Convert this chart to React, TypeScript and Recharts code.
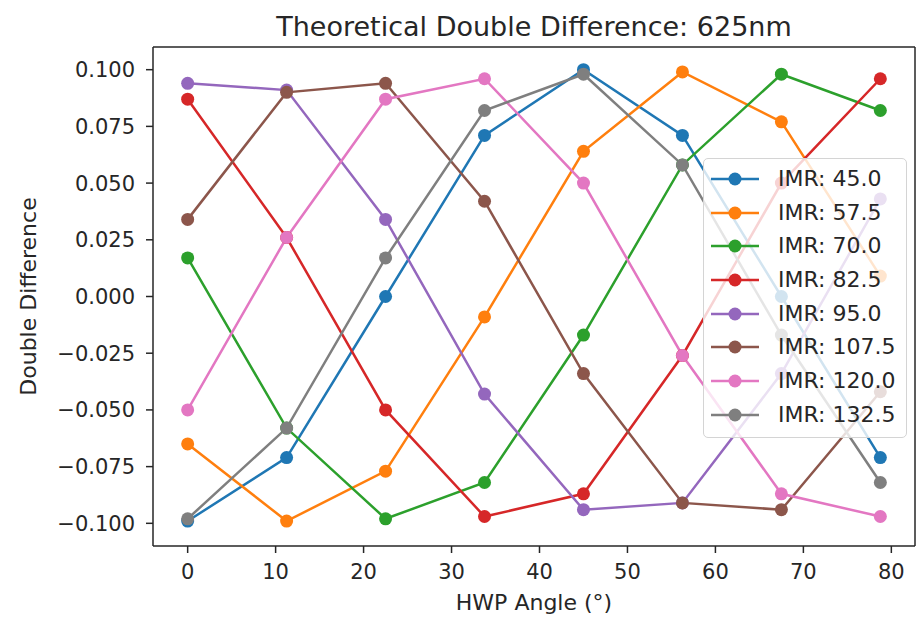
import { Legend, Line, LineChart, XAxis, YAxis } from "recharts";

const TITLE = "Theoretical Double Difference: 625nm";

// HWP angles (deg)
const ANGLES = [0, 11.25, 22.5, 33.75, 45, 56.25, 67.5, 78.75];
const X_TICKS = [0, 10, 20, 30, 40, 50, 60, 70, 80];
const Y_TICKS = [-0.1, -0.075, -0.05, -0.025, 0, 0.025, 0.05, 0.075, 0.1];

const IMR_45 = [-0.099, -0.071, 0.0, 0.071, 0.1, 0.071, 0.0, -0.071];
const IMR_57_5 = [-0.065, -0.099, -0.077, -0.009, 0.064, 0.099, 0.077, 0.009];
const IMR_70 = [0.017, -0.058, -0.098, -0.082, -0.017, 0.058, 0.098, 0.082];
const IMR_82_5 = [0.087, 0.026, -0.05, -0.097, -0.087, -0.026, 0.05, 0.096];
const IMR_95 = [0.094, 0.091, 0.034, -0.043, -0.094, -0.091, -0.034, 0.043];
const IMR_107_5 = [0.034, 0.09, 0.094, 0.042, -0.034, -0.091, -0.094, -0.042];
const IMR_120 = [-0.05, 0.026, 0.087, 0.096, 0.05, -0.026, -0.087, -0.097];
const IMR_132_5 = [-0.098, -0.058, 0.017, 0.082, 0.098, 0.058, -0.017, -0.082];

const SERIES = [
  { key: "imr45", name: "IMR: 45.0", values: IMR_45, color: "#1f77b4" },
  { key: "imr57", name: "IMR: 57.5", values: IMR_57_5, color: "#ff7f0e" },
  { key: "imr70", name: "IMR: 70.0", values: IMR_70, color: "#2ca02c" },
  { key: "imr82", name: "IMR: 82.5", values: IMR_82_5, color: "#d62728" },
  { key: "imr95", name: "IMR: 95.0", values: IMR_95, color: "#9467bd" },
  { key: "imr107", name: "IMR: 107.5", values: IMR_107_5, color: "#8c564b" },
  { key: "imr120", name: "IMR: 120.0", values: IMR_120, color: "#e377c2" },
  { key: "imr132", name: "IMR: 132.5", values: IMR_132_5, color: "#7f7f7f" },
];

const rows = ANGLES.map((angle, i) => {
  const row: Record<string, number> = { angle };
  SERIES.forEach((s) => {
    row[s.key] = s.values[i];
  });
  return row;
});

const X_DOMAIN = [-3.94, 82.69];
const Y_DOMAIN = [-0.11, 0.11];
const INK = "#262626";

const fmtY = (v: number) => {
  const s = Math.abs(v).toFixed(3);
  return v < -1e-9 ? "\u2212" + s : s;
};

const seriesOrder = (name: string) => SERIES.findIndex((s) => s.name === name);

function LegendBox({ payload }: any) {
  const items = [...(payload || [])].sort((a: any, b: any) => seriesOrder(a.value) - seriesOrder(b.value));
  return (
    <div
      style={{
        background: "rgba(255,255,255,0.8)",
        border: "1px solid #d4d4d4",
        borderRadius: 5,
        boxSizing: "border-box",
        width: 204,
        height: 280,
        paddingTop: 3,
      }}
    >
      {items.map((p: any) => (
        <div key={p.value} style={{ display: "flex", alignItems: "center", height: 33.7 }}>
          <svg width={56} height={18} style={{ marginLeft: 6 }}>
            <line x1={1} y1={9} x2={49} y2={9} stroke={p.color} strokeWidth={2.5} />
            <circle cx={25} cy={9} r={6.5} fill={p.color} />
          </svg>
          <span style={{ marginLeft: 12, fontSize: 22, color: INK, lineHeight: 1 }}>{p.value}</span>
        </div>
      ))}
    </div>
  );
}

export default function App() {
  return (
    <div
      style={{
        position: "absolute",
        left: 0,
        top: 0,
        width: 917,
        height: 619,
        background: "#fff",
        fontFamily: "'DejaVu Sans', sans-serif",
      }}
    >
      <LineChart width={917} height={619} data={rows} margin={{ top: 46, right: 1, bottom: 0, left: 0 }}>
        <XAxis
          dataKey="angle"
          type="number"
          domain={X_DOMAIN}
          ticks={X_TICKS}
          allowDataOverflow
          height={73}
          tickSize={7}
          tickMargin={11}
          stroke={INK}
          strokeWidth={1.5}
          tick={{ fill: INK, fontSize: 21 }}
          label={{ value: "HWP Angle (°)", position: "insideBottom", offset: 9, fill: INK, fontSize: 22 }}
        />
        <XAxis
          xAxisId="top"
          orientation="top"
          dataKey="angle"
          type="number"
          domain={X_DOMAIN}
          allowDataOverflow
          height={1}
          tick={false}
          tickLine={false}
          stroke={INK}
          strokeWidth={1.5}
          label={{ value: TITLE, position: "top", offset: 10, fill: INK, fontSize: 27 }}
        />
        <YAxis
          type="number"
          domain={Y_DOMAIN}
          ticks={Y_TICKS}
          allowDataOverflow
          width={153}
          tickSize={7}
          tickMargin={11}
          tickFormatter={fmtY}
          stroke={INK}
          strokeWidth={1.5}
          tick={{ fill: INK, fontSize: 21 }}
          label={{
            value: "Double Difference",
            angle: -90,
            position: "insideLeft",
            offset: 28,
            fill: INK,
            fontSize: 22,
            style: { textAnchor: "middle" },
          }}
        />
        <YAxis
          yAxisId="right"
          orientation="right"
          type="number"
          domain={Y_DOMAIN}
          allowDataOverflow
          width={1}
          tick={false}
          tickLine={false}
          stroke={INK}
          strokeWidth={1.5}
        />
        <Legend
          layout="vertical"
          align="center"
          verticalAlign="middle"
          content={<LegendBox />}
          wrapperStyle={{ left: 703, top: 158, width: 204, height: 280 }}
        />
        {SERIES.map((s) => (
          <Line
            key={s.key}
            type="linear"
            dataKey={s.key}
            name={s.name}
            stroke={s.color}
            strokeWidth={2.5}
            dot={{ r: 6.5, fill: s.color, stroke: s.color, strokeWidth: 0 }}
            activeDot={false}
            isAnimationActive={false}
          />
        ))}
      </LineChart>
    </div>
  );
}
